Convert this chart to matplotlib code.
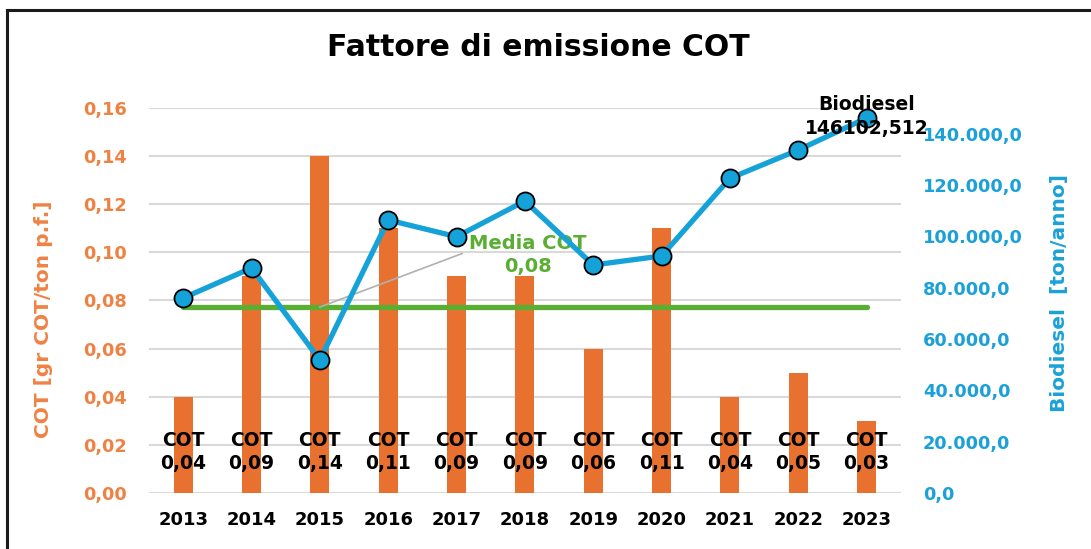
import numpy as np
import matplotlib
matplotlib.use("Agg")
import matplotlib.pyplot as plt
from matplotlib.lines import Line2D
from matplotlib.ticker import FuncFormatter

# dati
anni = ["2013", "2014", "2015", "2016", "2017", "2018", "2019", "2020", "2021", "2022", "2023"]
cot = [0.04, 0.09, 0.14, 0.11, 0.09, 0.09, 0.06, 0.11, 0.04, 0.05, 0.03]
biodiesel = [75970, 87660, 51820, 106360, 99860, 113760, 88830, 92340, 122600, 133630, 146102.512]
media_cot = sum(cot) / len(cot)

ORANGE = "#E8712F"
ORANGE_TXT = "#EF8243"
BLUE = "#14A2D9"
BLUE_TXT = "#1BA1D8"
GREEN = "#5AAE32"

plt.rcParams["font.family"] = ["DejaVu Sans"]
plt.rcParams["font.weight"] = "bold"

fig = plt.figure(figsize=(10.91, 5.49), dpi=100)
ax = fig.add_axes([0.1366, 0.102, 0.689, 0.7013])
ax2 = ax.twinx()

x = np.arange(len(anni))

# barre COT
ax.bar(x, cot, width=0.28, color=ORANGE, zorder=2)
# media COT
ax.plot([x[0], x[-1]], [media_cot, media_cot], color=GREEN, lw=3.8,
        solid_capstyle="round", zorder=3)
ax.plot([2, 4.08], [media_cot, 0.0995], color="#B0B0B0", lw=1.2, zorder=3)
ax.text(5.04, 0.099, "Media COT\n{:.2f}".format(media_cot).replace(".", ","),
        color=GREEN, fontsize=14, fontweight="bold", ha="center", va="center",
        linespacing=1.25, zorder=5)

# etichette COT alla base
for xi, v in zip(x, cot):
    ax.text(xi, 0.017, "COT\n" + "{:.2f}".format(v).replace(".", ","),
            ha="center", va="center", fontsize=13.5, fontweight="bold",
            color="black", linespacing=1.3, zorder=6)

ax.set_xlim(-0.5, len(anni) - 0.5)
ax.set_ylim(0, 0.16)
ax.set_yticks(np.arange(0, 0.161, 0.02))
ax.yaxis.set_major_formatter(FuncFormatter(lambda v, p: "{:.2f}".format(v).replace(".", ",")))
ax.grid(axis="y", color="#D9D9D9", lw=1.5, zorder=0)
ax.set_axisbelow(True)
ax.set_xticks(x)
ax.set_xticklabels(anni)
ax.tick_params(axis="x", length=0, pad=13, labelsize=13, labelcolor="black")
ax.tick_params(axis="y", length=0, pad=16, labelsize=12.8, labelcolor=ORANGE_TXT)
ax.set_ylabel("COT [gr COT/ton p.f.]", color=ORANGE_TXT, fontsize=14.5, fontweight="bold")
ax.yaxis.set_label_coords(-0.128, 0.452)

# linea biodiesel
ax2.plot(x, biodiesel, color=BLUE, lw=3.8, marker="o", markersize=13,
         markerfacecolor=BLUE, markeredgecolor="black", markeredgewidth=1.3, zorder=4)
ax2.text(x[-1], biodiesel[-1] + 600, "Biodiesel\n146102,512", ha="center", va="center",
         fontsize=13.5, fontweight="bold", color="black", linespacing=1.3, zorder=6)
ax2.set_ylim(0, 150000)
ax2.set_yticks(np.arange(0, 140001, 20000))
ax2.yaxis.set_major_formatter(FuncFormatter(
    lambda v, p: "{:,.1f}".format(v).replace(",", "X").replace(".", ",").replace("X", ".")))
ax2.tick_params(axis="y", length=0, pad=16, labelsize=12.8, labelcolor=BLUE_TXT)
ax2.set_ylabel("Biodiesel  [ton/anno]", color=BLUE_TXT, fontsize=14.5, fontweight="bold")
ax2.yaxis.set_label_coords(1.198, 0.519)

for a in (ax, ax2):
    for s in a.spines.values():
        s.set_visible(False)
ax2.set_zorder(ax.get_zorder() + 1)
ax2.patch.set_visible(False)

fig.text(0.493, 0.9126, "Fattore di emissione COT", ha="center", va="center",
         fontsize=21.5, fontweight="bold")

# cornice (solo bordo superiore e sinistro visibili)
fig.add_artist(Line2D([0.0065, 0.0065], [0, 0.982], transform=fig.transFigure,
                      color="#1A1A1A", lw=2.2))
fig.add_artist(Line2D([0.0065, 1.0], [0.982, 0.982], transform=fig.transFigure,
                      color="#1A1A1A", lw=2.2))

fig.savefig("out.png", dpi=100)
